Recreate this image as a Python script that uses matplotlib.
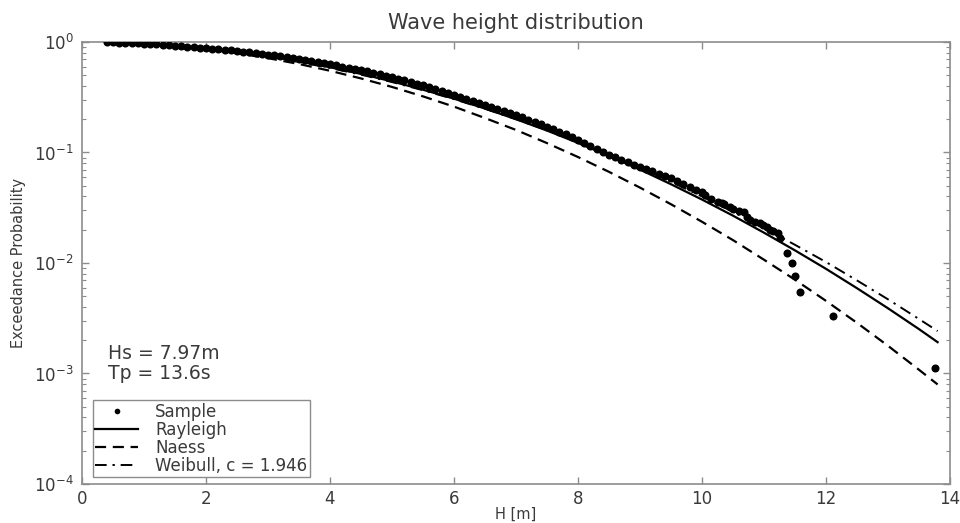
import matplotlib
matplotlib.use("Agg")
import matplotlib.pyplot as plt
from matplotlib.ticker import LogLocator, FixedLocator, NullFormatter

plt.rcParams['font.family'] = ['DejaVu Sans']

# ---- data ----
sample_h = [0.4, 0.5, 0.6, 0.7, 0.8, 0.9, 1.0, 1.1, 1.2, 1.3, 1.4, 1.5, 1.6, 1.7, 1.8, 1.9,
            2.0, 2.1, 2.2, 2.3, 2.4, 2.5, 2.6, 2.7, 2.8, 2.9, 3.0, 3.1, 3.2, 3.3, 3.4, 3.5,
            3.6, 3.7, 3.8, 3.9, 4.0, 4.1, 4.2, 4.3, 4.4, 4.5, 4.6, 4.7, 4.8, 4.9, 5.0, 5.1,
            5.2, 5.3, 5.4, 5.5, 5.6, 5.7, 5.8, 5.9, 6.0, 6.1, 6.2, 6.3, 6.4, 6.5, 6.6, 6.7,
            6.8, 6.9, 7.0, 7.1, 7.2, 7.3, 7.4, 7.5, 7.6, 7.7, 7.8, 7.9, 8.0, 8.1, 8.2, 8.3,
            8.4, 8.5, 8.6, 8.7, 8.8, 8.9, 9.0, 9.1, 9.2, 9.3, 9.4, 9.5, 9.6, 9.7, 9.8, 9.9,
            10.0, 10.05, 10.15, 10.25, 10.32, 10.35, 10.45, 10.5, 10.6, 10.67, 10.72, 10.77,
            10.85, 10.93, 10.99, 11.05, 11.1, 11.15, 11.23, 11.26, 11.37, 11.45, 11.5, 11.58,
            12.12, 13.76]
sample_p = [0.995, 0.992, 0.988, 0.984, 0.979, 0.974, 0.968, 0.961, 0.954, 0.946, 0.938, 0.929,
            0.920, 0.909, 0.899, 0.888, 0.877, 0.868, 0.859, 0.849, 0.839, 0.829, 0.818, 0.806,
            0.795, 0.783, 0.770, 0.757, 0.743, 0.729, 0.715, 0.700, 0.686, 0.671, 0.656, 0.643,
            0.628, 0.614, 0.599, 0.584, 0.570, 0.556, 0.541, 0.526, 0.512, 0.496, 0.481, 0.466,
            0.450, 0.435, 0.421, 0.406, 0.392, 0.376, 0.362, 0.348, 0.334, 0.320, 0.307, 0.294,
            0.283, 0.271, 0.260, 0.249, 0.239, 0.229, 0.218, 0.208, 0.1985, 0.189, 0.180, 0.171,
            0.1627, 0.1543, 0.1463, 0.1387, 0.1304, 0.1223, 0.1146, 0.1073, 0.1009, 0.0956,
            0.0907, 0.0859, 0.0812, 0.0768, 0.0733, 0.0702, 0.0673, 0.0645, 0.0617, 0.0582,
            0.0549, 0.0518, 0.0488, 0.0460,
            0.0435, 0.041, 0.038, 0.036, 0.0347, 0.034, 0.032, 0.031, 0.0295, 0.0292, 0.026,
            0.0245, 0.0235, 0.0228, 0.0221, 0.021, 0.020, 0.0195, 0.0186, 0.0167, 0.01225,
            0.0101, 0.00762, 0.0055, 0.0033, 0.00111]

curve_h = [0.4, 0.5, 1.0, 1.5, 2.0, 2.5, 3.0, 3.5, 4.0, 4.5, 5.0, 5.5, 6.0, 6.5, 7.0, 7.5,
           8.0, 8.5, 9.0, 9.5, 10.0, 10.5, 11.0, 11.5, 12.0, 12.5, 13.0, 13.5, 13.8]
rayleigh_p = [0.9977, 0.992, 0.968, 0.929, 0.877, 0.815, 0.744, 0.669, 0.591, 0.514, 0.440,
              0.370, 0.307, 0.250, 0.200, 0.158, 0.122, 0.0933, 0.0700, 0.0516, 0.0375,
              0.0268, 0.0188, 0.0130, 0.00885, 0.00591, 0.00389, 0.00252, 0.00192]
naess_p = [0.994, 0.991, 0.963, 0.919, 0.861, 0.791, 0.714, 0.632, 0.549, 0.468, 0.392,
           0.322, 0.260, 0.205, 0.160, 0.1216, 0.0910, 0.0668, 0.0481, 0.0340, 0.0236,
           0.0161, 0.0107, 0.00705, 0.00454, 0.00287, 0.00178, 0.00108, 0.000796]
weibull_p = [0.994, 0.991, 0.964, 0.923, 0.869, 0.805, 0.734, 0.659, 0.582, 0.506, 0.434,
             0.366, 0.304, 0.2485, 0.2002, 0.1590, 0.1243, 0.0958, 0.0727, 0.0543, 0.0400,
             0.0290, 0.0207, 0.0146, 0.0102, 0.00695, 0.00469, 0.00311, 0.00242]

x_ticks = [0, 2, 4, 6, 8, 10, 12, 14]
y_ticks = [1e-4, 1e-3, 1e-2, 1e-1, 1e0]

title_text = "Wave height distribution"
xlabel_text = "H [m]"
ylabel_text = "Exceedance Probability"
legend_labels = ["Sample", "Rayleigh", "Naess", "Weibull, c = 1.946"]
info_lines = ["Hs = 7.97m", "Tp = 13.6s"]

# ---- figure ----
txt = '#3a3a3a'
spc = '#8c8c8c'
fig = plt.figure(figsize=(9.6, 5.23), dpi=100)
ax = fig.add_axes([0.0854, 0.0746, 0.9042, 0.8451])

ax.plot(sample_h, sample_p, linestyle='none', marker='o', markersize=5.8,
        color='black', markeredgewidth=0, label=legend_labels[0], zorder=4)
ax.plot(curve_h, rayleigh_p, color='black', linewidth=1.6, linestyle='-',
        label=legend_labels[1], zorder=3)
ax.plot(curve_h, naess_p, color='black', linewidth=1.6, linestyle=(0, (5, 3)),
        label=legend_labels[2], zorder=3)
ax.plot(curve_h, weibull_p, color='black', linewidth=1.4, linestyle=(0, (6, 3, 1.2, 3)),
        label=legend_labels[3], zorder=3)

ax.set_yscale('log')
ax.set_xlim(0, 14)
ax.set_ylim(1e-4, 1)
ax.xaxis.set_major_locator(FixedLocator(x_ticks))
ax.yaxis.set_major_locator(FixedLocator(y_ticks))
ax.yaxis.set_minor_locator(LogLocator(base=10, subs=range(2, 10)))
ax.yaxis.set_minor_formatter(NullFormatter())

ax.tick_params(which='both', direction='in', top=True, right=True, color=spc,
               labelcolor=txt)
ax.tick_params(which='major', length=5, width=1, labelsize=12, pad=6)
ax.tick_params(axis='x', which='major', pad=4)
ax.tick_params(which='minor', length=3, width=0.8)
for s in ax.spines.values():
    s.set_color(spc)
    s.set_linewidth(1.2)

ax.set_title(title_text, fontsize=15, color=txt, pad=9)
ax.set_xlabel(xlabel_text, fontsize=10.5, color=txt)
ax.xaxis.set_label_coords(0.5, -0.052)
ax.set_ylabel(ylabel_text, fontsize=10.5, color=txt, labelpad=6)

ax.text(0.030, 0.296, info_lines[0], transform=ax.transAxes, fontsize=13.5,
        color=txt, va='center', ha='left')
ax.text(0.030, 0.251, info_lines[1], transform=ax.transAxes, fontsize=13.5,
        color=txt, va='center', ha='left')

leg = ax.legend(loc='lower left', bbox_to_anchor=(0.0123, 0.0158), fontsize=12,
                frameon=True, fancybox=False, edgecolor=spc, framealpha=1,
                borderaxespad=0, labelspacing=0.0, handlelength=2.6,
                handletextpad=1.0, borderpad=0.15, markerscale=0.7)
leg.get_frame().set_linewidth(1.0)
for t in leg.get_texts():
    t.set_color(txt)

fig.savefig('out.png', dpi=100)
